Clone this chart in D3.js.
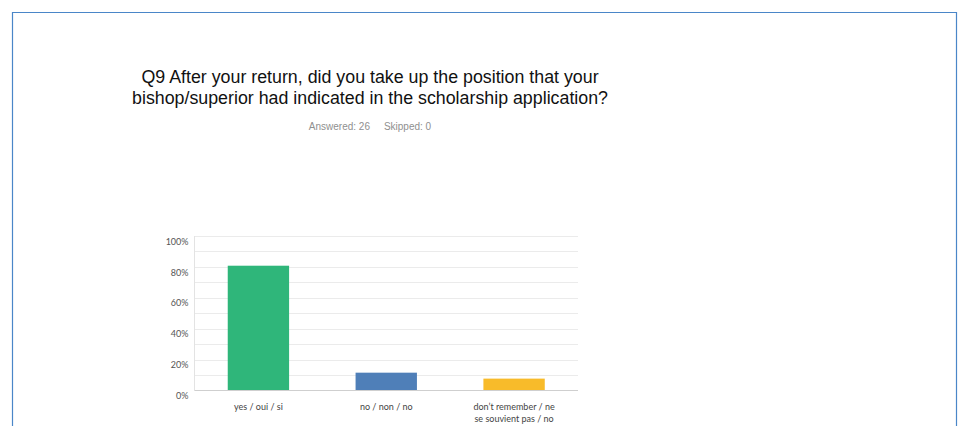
<!DOCTYPE html>
<html>
<head>
<meta charset="utf-8">
<script src="https://cdn.jsdelivr.net/npm/d3@7"></script>
<style>
  html, body { margin: 0; padding: 0; background: #fff; }
  svg { display: block; }
</style>
</head>
<body>
<svg id="chart" width="960" height="426"></svg>
<script>
// Survey question, answer options and response shares
const titleLines = [
  "Q9 After your return, did you take up the position that your",
  "bishop/superior had indicated in the scholarship application?"
];
const answered = 26;
const skipped = 0;
const categories = [
  ["yes / oui / si"],
  ["no / non / no"],
  ["don\u2019t remember / ne", "se souvient pas / no"]
];
const shares = [0.8077, 0.1154, 0.0769];
const barColors = ["#2fb67a", "#4f7fb8", "#f8bb2a"];
const yTicks = [0, 0.2, 0.4, 0.6, 0.8, 1.0];
const yGrid = [0.1, 0.2, 0.3, 0.4, 0.5, 0.6, 0.7, 0.8, 0.9, 1.0];

const svg = d3.select("#chart");

// Panel frame (open at the bottom)
svg.append("path")
  .attr("d", "M12.5,430 V12.5 H956.5 V430")
  .attr("fill", "none")
  .attr("stroke", "#4a86c8")
  .attr("stroke-width", 1.2);

// Question title
const title = svg.append("text")
  .attr("transform", "translate(370,0) scale(1,1.05)")
  .attr("text-anchor", "middle")
  .attr("font-family", "Liberation Sans, Arial, sans-serif")
  .attr("font-size", 17.8)
  .attr("fill", "#111");
titleLines.forEach((t, i) => {
  title.append("tspan").attr("x", 0).attr("y", (83.5 + i * 21) / 1.05).text(t);
});

svg.append("text")
  .attr("x", 370).attr("y", 129.5)
  .attr("text-anchor", "middle")
  .attr("font-family", "Liberation Sans, Arial, sans-serif")
  .attr("font-size", 10)
  .attr("fill", "#8f8f8f")
  .attr("xml:space", "preserve")
  .text(`Answered: ${answered}     Skipped: ${skipped}`);

// Plot area
const plot = { left: 194.5, right: 578, top: 236, bottom: 390.5 };

const x = d3.scaleBand()
  .domain(d3.range(categories.length))
  .range([plot.left, plot.right])
  .paddingInner(0.52)
  .paddingOuter(0.26);

const y = d3.scaleLinear().domain([0, 1]).range([plot.bottom, plot.top]);

// Horizontal gridlines every 10%
svg.append("g")
  .selectAll("line")
  .data(yGrid)
  .join("line")
  .attr("x1", plot.left).attr("x2", plot.right)
  .attr("y1", d => Math.round(y(d)) + 0.5)
  .attr("y2", d => Math.round(y(d)) + 0.5)
  .attr("stroke", "#ebebeb")
  .attr("stroke-width", 1);

// Left axis line
svg.append("line")
  .attr("x1", plot.left).attr("x2", plot.left)
  .attr("y1", plot.top).attr("y2", plot.bottom)
  .attr("stroke", "#e3e3e3");

// Y axis tick labels
const yAxis = d3.axisLeft(y)
  .tickValues(yTicks)
  .tickFormat(d3.format(".0%"))
  .tickSize(0)
  .tickPadding(6);
const yg = svg.append("g")
  .attr("transform", `translate(${plot.left},0)`)
  .call(yAxis);
yg.select(".domain").remove();
yg.selectAll("text")
  .attr("font-family", "Lato, 'Open Sans', sans-serif")
  .attr("font-size", 9)
  .attr("fill", "#555")
  .attr("dy", "0.9em");

// Bars
svg.append("g")
  .selectAll("rect")
  .data(shares)
  .join("rect")
  .attr("x", (d, i) => x(i))
  .attr("width", x.bandwidth())
  .attr("y", d => y(d))
  .attr("height", d => y(0) - y(d))
  .attr("fill", (d, i) => barColors[i]);

// Baseline
svg.append("line")
  .attr("x1", plot.left).attr("x2", plot.right)
  .attr("y1", plot.bottom).attr("y2", plot.bottom)
  .attr("stroke", "#cfcfcf")
  .attr("stroke-width", 1.2);

// Category labels
const xAxis = d3.axisBottom(x).tickSize(0).tickFormat("");
const xg = svg.append("g")
  .attr("transform", `translate(0,${plot.bottom})`)
  .call(xAxis);
xg.select(".domain").remove();
xg.selectAll(".tick").each(function(d) {
  const t = d3.select(this).append("text")
    .attr("text-anchor", "middle")
    .attr("font-family", "Lato, 'Open Sans', sans-serif")
    .attr("font-size", 9)
    .attr("fill", "#444");
  categories[d].forEach((line, i) => {
    t.append("tspan").attr("x", 0).attr("y", 19.5 + i * 11.5).text(line);
  });
});
</script>
</body>
</html>
